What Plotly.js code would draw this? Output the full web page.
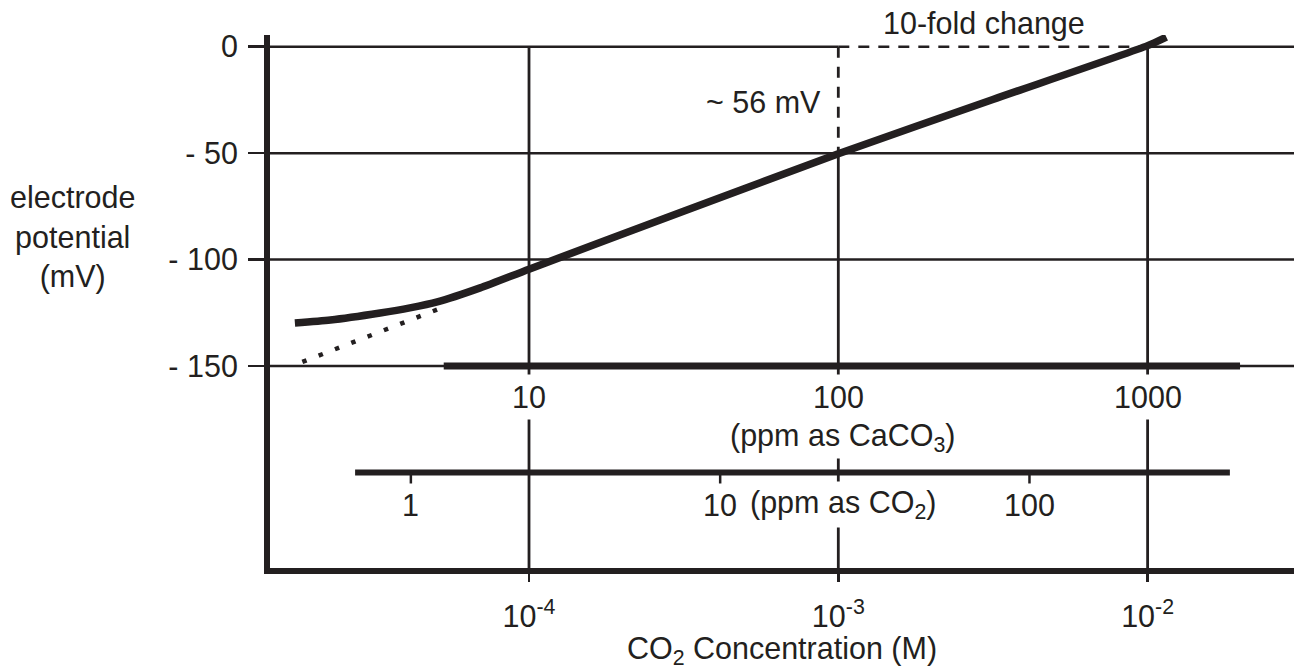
<!DOCTYPE html>
<html>
<head>
<meta charset="utf-8">
<script src="https://cdn.plot.ly/plotly-3.0.1.min.js"></script>
<style>
  html, body { margin: 0; padding: 0; background: #ffffff; }
  #chart { width: 1294px; height: 670px; }
</style>
</head>
<body>
<div id="chart"></div>
<script>
// ---- data ----
// measured electrode response (CO2 concentration in M vs potential in mV)
const concM     = [1.75e-5, 2.28e-5, 3.30e-5, 4.12e-5, 5.05e-5, 6.95e-5, 1.0e-4, 3.16e-4, 1.0e-3, 3.16e-3, 1.0e-2, 1.15e-2];
const potential = [-129.8, -128.4, -125.1, -122.7, -119.9, -113.3, -104.5, -77.3, -50.3, -24.8, 0.5, 4.5];

// dotted Nernstian extrapolation at low concentration
const extrapConc = [1.85e-5, 5.3e-5];
const extrapMV   = [-148.1, -122.3];

// main axis ticks
const xTickVals = [1e-4, 1e-3, 1e-2];
const xTickText = ['10<sup>-4</sup>', '10<sup>-3</sup>', '10<sup>-2</sup>'];
const yTickVals = [0, -50, -100, -150];
const yTickText = ['0', '- 50', '- 100', '- 150'];

// secondary scale: ppm as CaCO3
const caco3BarConc  = [5.3e-5, 1.99e-2];
const caco3BarMV    = -150;
const caco3TickConc = [1e-4, 1e-3, 1e-2];
const caco3Labels   = ['10', '100', '1000'];

// secondary scale: ppm as CO2
const co2BarConc  = [2.74e-5, 1.845e-2];
const co2BarMV    = -200;
const co2TickConc = [4.15e-5, 4.15e-4, 4.15e-3];
const co2Labels   = ['1', '10', '100'];

// ---- styling ----
const INK = '#231f20';
const FONT = 'Liberation Sans, Arial, Helvetica, sans-serif';
const FS = 30.5;
const xRangeLog = [-4.8374, -1.5267];
const yRange = [-244.9, 5.5];
const xL = 1e-6, xR = 1;         // lines are clipped to the plot area
const yBot = yRange[0];

const traces = [];
function seg(x, y, width, dash) {
  traces.push({
    x: x, y: y, type: 'scatter', mode: 'lines', hoverinfo: 'skip', showlegend: false,
    line: {color: INK, width: width, dash: dash || 'solid'}
  });
}

// horizontal grid lines
seg([xL, xR], [-50, -50], 2.5);
seg([xL, xR], [-100, -100], 2.5);
seg([xL, xR], [-150, -150], 2.5);
seg([xL, 1e-3], [0, 0], 2.5);
seg([1e-3, 1e-2], [0, 0], 2.5, '11px,9px');
seg([1e-2, xR], [0, 0], 2.5);

// vertical grid lines
seg([1e-4, 1e-4], [0, yBot], 2.8);
seg([1e-2, 1e-2], [0, yBot], 2.8);
seg([1e-3, 1e-3], [0, -50], 2.8, '11px,9px');
seg([1e-3, 1e-3], [-50, yBot], 2.8);

// secondary scale bars
seg(caco3BarConc, [caco3BarMV, caco3BarMV], 7);
seg(co2BarConc, [co2BarMV, co2BarMV], 6);
co2TickConc.forEach(c => seg([c, c], [co2BarMV, co2BarMV - 5.2], 2.5));

// dotted extrapolation
traces.push({
  x: extrapConc, y: extrapMV, type: 'scatter', mode: 'lines', hoverinfo: 'skip', showlegend: false,
  line: {color: INK, width: 4.5, dash: '4.5px,13px'}
});

// measured response curve
traces.push({
  x: concM, y: potential, type: 'scatter', mode: 'lines', hoverinfo: 'skip', showlegend: false,
  line: {color: INK, width: 7.5, shape: 'spline', smoothing: 0.6}
});

const font = {family: FONT, size: FS, color: INK};
const annotations = [];

// CaCO3 labels
caco3TickConc.forEach((c, i) => annotations.push({
  x: Math.log10(c), y: -164.5, xref: 'x', yref: 'y', text: caco3Labels[i],
  showarrow: false, font: font, bgcolor: '#ffffff', borderpad: 5, xanchor: 'center', yanchor: 'middle'
}));
annotations.push({
  x: Math.log10(caco3TickConc[1]) + 0.015, y: -183.4, xref: 'x', yref: 'y',
  text: '(ppm as CaCO<sub>3</sub>)', showarrow: false, font: font, bgcolor: '#ffffff', borderpad: 1,
  xanchor: 'center', yanchor: 'middle'
});

// CO2 labels
co2TickConc.forEach((c, i) => annotations.push({
  x: Math.log10(c), y: -215.3, xref: 'x', yref: 'y', text: co2Labels[i],
  showarrow: false, font: font, xanchor: 'center', yanchor: 'middle'
}));
annotations.push({
  x: Math.log10(caco3TickConc[1]) + 0.015, y: -215.3, xref: 'x', yref: 'y',
  text: '(ppm as CO<sub>2</sub>)', showarrow: false, font: font, bgcolor: '#ffffff', borderpad: 3,
  xanchor: 'center', yanchor: 'middle'
});

// slope annotations
annotations.push({
  x: -3, y: -26, xref: 'x', yref: 'y', text: '~ 56 mV', showarrow: false, font: font,
  xanchor: 'right', yanchor: 'middle', xshift: -15
});
annotations.push({
  x: -2.5, y: 1.0225, xref: 'x', yref: 'paper', text: '10-fold change', showarrow: false, font: font,
  xanchor: 'center', yanchor: 'middle', xshift: -9
});

// y-axis title (horizontal, three lines)
annotations.push({
  x: -0.1924, y: -89.4, xref: 'paper', yref: 'y', text: 'electrode<br>potential<br>(mV)',
  showarrow: false, font: font, align: 'center', xanchor: 'center', yanchor: 'middle'
});

const layout = {
  width: 1294, height: 670,
  margin: {l: 270, r: 0, t: 35, b: 102, pad: 0},
  paper_bgcolor: '#ffffff', plot_bgcolor: '#ffffff',
  font: font,
  showlegend: false,
  xaxis: {
    type: 'log', range: xRangeLog, fixedrange: true,
    showline: true, linewidth: 6, linecolor: INK, mirror: false,
    showgrid: false, zeroline: false,
    tickmode: 'array', tickvals: xTickVals, ticktext: xTickText,
    ticks: 'outside', ticklen: 8, tickwidth: 2.8, tickcolor: INK,
    tickfont: font, ticklabelstandoff: 8,
    title: {text: 'CO<sub>2</sub> Concentration (M)', font: font, standoff: 8}
  },
  yaxis: {
    range: yRange, fixedrange: true,
    showline: true, linewidth: 6, linecolor: INK,
    showgrid: false, zeroline: false,
    tickmode: 'array', tickvals: yTickVals, ticktext: yTickText,
    ticks: 'outside', ticklen: 16, tickwidth: 2.5, tickcolor: INK,
    tickfont: font, ticklabelstandoff: 4
  },
  annotations: annotations
};

Plotly.newPlot('chart', traces, layout, {displayModeBar: false, staticPlot: true});
</script>
</body>
</html>
